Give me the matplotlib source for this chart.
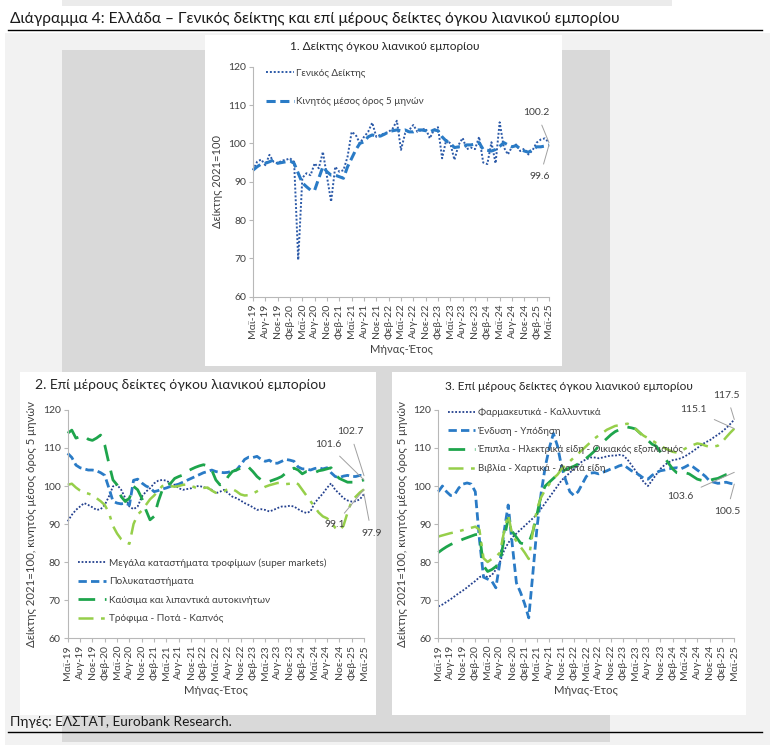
import numpy as np
import matplotlib
matplotlib.use('Agg')
import matplotlib.pyplot as plt
from matplotlib.patches import Rectangle

plt.rcParams['font.family'] = ['Lato', 'DejaVu Sans']

W, H = 774, 747

# monthly data, May-19 .. May-25 (73 months)
months = np.arange(73)
month_names = ['Μαϊ', 'Αυγ', 'Νοε', 'Φεβ']

# panel 1
general = [93.0, 95.2, 95.8, 94.3, 97.0, 95.2, 94.8, 95.5, 95.7, 96.1,
           95.2, 69.6, 91.0, 92.2, 91.7, 94.8, 93.5, 97.8, 91.3, 84.8,
           93.9, 92.6, 93.0, 96.5, 103.0, 102.2, 100.0, 101.7, 103.0, 105.4,
           101.7, 102.2, 102.6, 103.0, 103.9, 105.9, 98.3, 102.6, 103.5, 104.8,
           103.0, 103.5, 103.9, 101.3, 103.5, 104.2, 96.1, 100.9, 100.0, 95.7,
           99.6, 101.4, 98.5, 98.9, 98.5, 101.7, 95.0, 94.6, 100.3, 94.8,
           105.5, 99.0, 97.1, 99.1, 99.7, 98.0, 98.6, 97.1, 98.2, 100.2,
           101.0, 101.3, 100.2]
general_ma = [93.0, 93.9, 94.6, 94.8, 95.2, 95.7, 94.8, 95.0, 95.2, 95.4,
              94.8, 92.2, 89.7, 88.7, 87.8, 87.8, 90.9, 93.9, 92.6, 91.7,
              91.7, 91.3, 90.9, 93.9, 96.1, 98.3, 100.0, 100.4, 101.7, 102.2,
              101.9, 101.9, 102.4, 103.0, 103.3, 103.5, 103.3, 103.5, 103.0, 103.0,
              103.5, 103.5, 103.3, 103.0, 103.5, 103.3, 101.7, 100.6, 100.0, 98.9,
              99.1, 99.1, 99.6, 99.6, 99.8, 100.2, 98.4, 98.2, 98.0, 98.4,
              99.2, 100.2, 99.6, 99.1, 99.4, 98.6, 98.0, 97.7, 98.3, 99.1,
              99.1, 99.3, 99.6]

# panel 2
supermarkets = [90.7, 92.4, 93.7, 94.6, 95.5, 95.0, 94.4, 93.7, 93.9, 95.0,
                97.2, 99.9, 100.3, 99.0, 96.8, 94.6, 93.9, 94.6, 97.2, 98.5,
                99.4, 100.7, 101.4, 101.6, 101.4, 100.7, 100.3, 99.4, 99.0, 99.2,
                99.4, 99.9, 100.0, 99.7, 99.4, 99.0, 98.1, 98.5, 99.0, 98.1,
                97.2, 96.8, 96.2, 95.5, 95.0, 94.4, 93.7, 93.9, 93.7, 93.3,
                93.7, 94.2, 94.6, 94.6, 94.8, 94.6, 93.9, 93.3, 92.9, 93.3,
                95.5, 96.8, 98.0, 99.5, 100.7, 99.0, 98.0, 96.8, 96.2, 95.9,
                96.0, 96.5, 97.9]
dept_stores = [108.6, 107.5, 105.5, 104.8, 104.5, 104.2, 104.2, 104.0, 103.5, 102.8,
               99.5, 96.0, 95.5, 95.3, 95.5, 95.0, 101.5, 101.8, 100.8, 100.0,
               99.5, 98.5, 98.8, 99.2, 99.5, 99.9, 100.2, 100.5, 101.0, 101.5,
               102.0, 102.5, 103.0, 103.5, 103.8, 104.2, 103.8, 103.6, 103.5, 103.6,
               104.0, 104.2, 105.5, 107.0, 107.6, 107.5, 107.8, 107.0, 106.5, 106.8,
               106.0, 106.0, 106.5, 107.0, 106.8, 106.5, 105.0, 104.5, 104.5, 104.2,
               104.6, 104.8, 104.5, 104.8, 103.5, 102.5, 102.2, 102.6, 102.8, 102.5,
               102.5, 102.8, 102.7]
fuels = [113.9, 114.7, 112.6, 113.0, 113.2, 112.3, 112.0, 112.6, 113.4, 110.8,
         106.0, 101.6, 100.3, 97.2, 95.9, 96.8, 99.9, 99.0, 96.8, 93.7,
         91.1, 92.0, 95.9, 99.0, 100.3, 100.7, 102.0, 102.5, 102.9, 103.8,
         104.4, 104.9, 105.3, 105.6, 105.3, 104.2, 101.6, 100.3, 100.7, 102.5,
         103.8, 104.2, 104.7, 105.3, 104.9, 103.8, 102.5, 101.6, 101.2, 101.2,
         101.6, 102.0, 102.5, 103.4, 104.2, 104.7, 104.2, 103.2, 103.8, 103.8,
         103.5, 104.0, 104.2, 104.5, 104.8, 103.0, 102.0, 101.5, 101.0, 101.0,
         101.0, 101.3, 101.6]
food = [100.3, 100.6, 99.6, 98.8, 98.2, 98.0, 97.6, 96.8, 96.0, 95.0,
        93.0, 89.5, 87.5, 86.0, 85.2, 84.8, 90.0, 92.5, 93.5, 95.0,
        96.5, 97.5, 98.8, 100.0, 100.3, 100.0, 99.8, 100.0, 100.3, 100.4,
        100.0, 99.6, 99.3, 99.5, 99.6, 98.8, 98.2, 98.3, 98.6, 99.3,
        99.2, 98.6, 97.8, 97.5, 97.6, 98.0, 98.6, 99.2, 99.8, 100.2,
        100.5, 100.8, 100.8, 100.5, 100.6, 101.0, 100.5, 99.0, 97.5, 96.0,
        94.5, 93.0, 92.0, 91.5, 90.5, 89.0, 88.3, 89.5, 93.0, 96.0,
        97.2, 98.3, 99.1]

# panel 3
pharma = [68.3, 68.8, 69.5, 70.2, 71.0, 71.8, 72.5, 73.3, 74.2, 75.0,
          76.0, 76.5, 76.0, 76.5, 78.0, 80.0, 83.0, 85.0, 86.5, 87.5,
          88.5, 89.5, 90.5, 91.5, 92.5, 94.0, 95.5, 97.0, 98.5, 100.0,
          101.5, 102.5, 103.5, 104.5, 105.5, 106.5, 107.0, 107.5, 107.5, 107.3,
          107.5, 107.8, 108.0, 108.0, 108.2, 108.0, 107.0, 105.5, 104.0, 102.5,
          101.0, 100.0, 101.5, 103.0, 104.5, 105.5, 106.2, 106.8, 107.0, 107.3,
          107.8, 108.5, 109.2, 110.0, 110.8, 111.5, 112.0, 112.8, 113.5, 114.3,
          115.2, 116.3, 117.5]
clothing = [98.5, 100.0, 98.5, 97.5, 97.8, 99.5, 100.5, 100.8, 100.5, 98.5,
            86.0, 76.0, 75.5, 75.0, 73.2, 80.0, 88.0, 95.0, 84.5, 74.5,
            72.0, 69.0, 65.3, 77.0, 89.0, 98.0, 105.0, 110.0, 113.8, 110.5,
            105.0, 101.5, 98.5, 97.5, 98.5, 100.5, 102.5, 103.4, 103.5, 103.2,
            103.6, 104.0, 104.5, 104.8, 105.3, 105.6, 104.8, 104.0, 103.5, 102.8,
            102.0, 101.8, 102.8, 103.5, 104.0, 104.2, 104.5, 104.7, 104.8, 104.5,
            105.0, 105.6, 105.0, 104.2, 103.4, 102.5, 101.3, 101.0, 100.7, 100.8,
            101.0, 100.7, 100.5]
furniture = [82.5, 83.3, 84.0, 84.6, 85.1, 85.5, 86.0, 86.4, 86.8, 87.2,
             87.3, 79.0, 77.5, 78.0, 78.8, 80.0, 86.0, 91.5, 88.0, 86.5,
             85.0, 84.7, 85.0, 88.0, 92.5, 97.5, 100.0, 101.0, 102.0, 103.0,
             103.8, 104.3, 104.8, 105.2, 105.8, 106.5, 107.3, 108.2, 109.2, 110.5,
             111.5, 112.5, 113.5, 114.3, 114.8, 115.2, 115.5, 115.3, 115.0, 114.0,
             113.0, 112.0, 111.0, 110.5, 109.0, 107.5, 106.0, 104.5, 103.5, 103.3,
             103.5, 103.2, 102.5, 101.8, 101.5, 101.3, 101.5, 101.8, 102.0, 102.5,
             103.0, 103.3, 103.6]
books = [86.7, 87.0, 87.3, 87.6, 87.8, 88.1, 88.4, 88.7, 89.0, 89.3,
         88.5, 81.0, 80.0, 80.8, 81.3, 82.5, 88.0, 92.5, 87.0, 85.5,
         84.0, 82.5, 80.8, 88.0, 94.0, 97.0, 99.0, 100.5, 102.0, 103.0,
         104.5, 105.5, 106.5, 107.5, 108.5, 109.5, 110.5, 111.5, 112.5, 113.3,
         114.0, 114.8, 115.3, 115.8, 116.0, 116.2, 116.4, 116.0, 115.0, 114.0,
         113.2, 112.6, 112.0, 111.3, 110.8, 110.0, 109.5, 109.0, 108.8, 109.2,
         109.8, 110.4, 110.8, 111.2, 111.0, 110.6, 110.3, 110.4, 110.6, 111.5,
         112.8, 114.0, 115.1]

# tick labels every 3 months
tick_labels = []
year = 19
for i in range(25):
    name = month_names[i % 4]
    if name == 'Φεβ':
        year += 1
    tick_labels.append(name + '-' + str(year))

navy = '#23408e'
blue = '#2a7bc6'
green = '#1ea54c'
lgreen = '#96cf4a'
txt = '#404040'
grid_c = '#b8b8b8'

fig = plt.figure(figsize=(W / 100, H / 100), dpi=100)
fig.patch.set_facecolor('white')


def rect(x0, y0, x1, y1, c):
    fig.add_artist(Rectangle((x0 / W, 1 - y1 / H), (x1 - x0) / W, (y1 - y0) / H,
                             transform=fig.transFigure, color=c, zorder=0, lw=0))


def axbox(x0, y0, x1, y1):
    return [x0 / W, 1 - y1 / H, (x1 - x0) / W, (y1 - y0) / H]


# background layers of the page
rect(62, 0, 672, 6, '#ebebeb')
rect(5, 33, 770, 745, '#f2f2f2')
rect(62, 50, 610, 742, '#d9d9d9')
rect(205, 35, 562, 366, 'white')
rect(20, 372, 376, 715, 'white')
rect(392, 372, 746, 715, 'white')

# heading and source
fig.text(10 / W, 1 - 19 / H, 'Διάγραμμα 4: Ελλάδα – Γενικός δείκτης και επί μέρους δείκτες όγκου λιανικού εμπορίου',
         fontsize=11.2, color='#1a1a1a', va='center', ha='left')
fig.add_artist(plt.Line2D([8 / W, 762 / W], [1 - 30 / H, 1 - 30 / H], color='black', lw=1,
                          transform=fig.transFigure))
fig.text(10 / W, 1 - 722 / H, 'Πηγές: ΕΛΣΤΑΤ, Eurobank Research.', fontsize=9.8, color='#1a1a1a',
         va='center', ha='left')
fig.add_artist(plt.Line2D([8 / W, 762 / W], [1 - 732 / H, 1 - 732 / H], color='black', lw=1,
                          transform=fig.transFigure))


def style(ax, ylabel, fs):
    ax.set_facecolor('none')
    ax.set_xlim(0, 72)
    ax.set_ylim(60, 120)
    ax.set_yticks(range(60, 121, 10))
    ax.set_xticks(range(0, 73, 3))
    ax.set_xticklabels(tick_labels, rotation=90)
    for s in ['top', 'right']:
        ax.spines[s].set_visible(False)
    for s in ['left', 'bottom']:
        ax.spines[s].set_color(grid_c)
        ax.spines[s].set_linewidth(0.8)
    ax.tick_params(colors=grid_c, labelcolor=txt, labelsize=7.5, length=3, width=0.8, pad=2)
    ax.set_ylabel(ylabel, fontsize=fs, color=txt, labelpad=4)
    ax.set_xlabel('Μήνας-Έτος', fontsize=fs, color=txt, labelpad=4)


def label(ax, s, xy, xytext):
    ax.annotate(s, xy=xy, xytext=xytext, ha='center', va='center', fontsize=7.5, color=txt,
                annotation_clip=False,
                arrowprops=dict(arrowstyle='-', color='#a0a0a0', lw=0.7, shrinkA=4, shrinkB=0))


# panel 1
ax1 = fig.add_axes(axbox(253, 66.7, 549, 296.7))
ax1.plot(months, general, color='#2c5aa8', lw=1.4, ls=(0, (1, 1)), label='Γενικός Δείκτης', clip_on=False)
ax1.plot(months, general_ma, color=blue, lw=2.2, ls=(0, (3, 1.5)), label='Κινητός μέσος όρος 5 μηνών', clip_on=False)
style(ax1, 'Δείκτης 2021=100', 8)
ax1.legend(loc='upper left', bbox_to_anchor=(261 / W, 1 - 64 / H), bbox_transform=fig.transFigure,
           frameon=False, fontsize=7.1, labelspacing=1.95, handlelength=2.8, handletextpad=0.3,
           borderpad=0, labelcolor=txt)
label(ax1, '100.2', (72, general[-1]), (69, 108))
label(ax1, '99.6', (72, general_ma[-1]), (69.8, 91.3))
fig.text(385 / W, 1 - 46 / H, '1. Δείκτης όγκου λιανικού εμπορίου', fontsize=8.6, color='#262626',
         ha='center', va='center')

# panel 2
ax2 = fig.add_axes(axbox(67.7, 410, 364, 638))
ax2.plot(months, supermarkets, color=navy, lw=1.3, ls=(0, (1, 1)),
         label='Μεγάλα καταστήματα τροφίμων (super markets)', clip_on=False)
ax2.plot(months, dept_stores, color=blue, lw=2, ls=(0, (3, 1.5)), label='Πολυκαταστήματα', clip_on=False)
ax2.plot(months, fuels, color=green, lw=2, ls=(0, (6, 3.5)), label='Καύσιμα και λιπαντικά αυτοκινήτων',
         clip_on=False)
ax2.plot(months, food, color=lgreen, lw=1.8, ls=(0, (6, 3, 1.5, 3)), label='Τρόφιμα - Ποτά - Καπνός',
         clip_on=False)
style(ax2, 'Δείκτης 2021=100, κινητός μέσος όρος 5 μηνών', 8.2)
ax2.legend(loc='upper left', bbox_to_anchor=(73 / W, 1 - 553 / H), bbox_transform=fig.transFigure,
           frameon=False, fontsize=7.2, labelspacing=0.95, handlelength=2.8, handletextpad=0.3,
           borderpad=0, labelcolor=txt)
label(ax2, '102.7', (72, dept_stores[-1]), (68.6, 114.3))
label(ax2, '101.6', (72, fuels[-1]), (63.3, 110.8))
label(ax2, '99.1', (72, food[-1]), (64.9, 89.8))
label(ax2, '97.9', (72, supermarkets[-1]), (73.8, 87.6))
fig.text(180 / W, 1 - 385 / H, '2. Επί μέρους δείκτες όγκου λιανικού εμπορίου', fontsize=10, color='#262626',
         ha='center', va='center')

# panel 3
ax3 = fig.add_axes(axbox(438.3, 410, 734.3, 638))
ax3.plot(months, pharma, color=navy, lw=1.3, ls=(0, (1, 1)), label='Φαρμακευτικά - Καλλυντικά', clip_on=False)
ax3.plot(months, clothing, color=blue, lw=2, ls=(0, (3, 1.5)), label='Ένδυση - Υπόδηση', clip_on=False)
ax3.plot(months, furniture, color=green, lw=2, ls=(0, (6, 3.5)),
         label='Έπιπλα - Ηλεκτρικά είδη - Οικιακός εξοπλισμός', clip_on=False)
ax3.plot(months, books, color=lgreen, lw=1.8, ls=(0, (6, 3, 1.5, 3)), label='Βιβλία - Χαρτικά - Λοιπά είδη',
         clip_on=False)
style(ax3, 'Δείκτης 2021=100, κινητός μέσος όρος 5 μηνών', 8.2)
ax3.legend(loc='upper left', bbox_to_anchor=(443 / W, 1 - 403 / H), bbox_transform=fig.transFigure,
           frameon=False, fontsize=7.0, labelspacing=1.0, handlelength=2.8, handletextpad=0.3,
           borderpad=0, labelcolor=txt)
label(ax3, '117.5', (72, pharma[-1]), (70.2, 123.9))
label(ax3, '115.1', (72, books[-1]), (62, 120))
label(ax3, '103.6', (72, furniture[-1]), (58.8, 97.2))
label(ax3, '100.5', (72, clothing[-1]), (70.2, 93.3))
fig.text(569 / W, 1 - 387 / H, '3. Επί μέρους δείκτες όγκου λιανικού εμπορίου', fontsize=8.6, color='#262626',
         ha='center', va='center')

fig.savefig('out.png', dpi=100)
